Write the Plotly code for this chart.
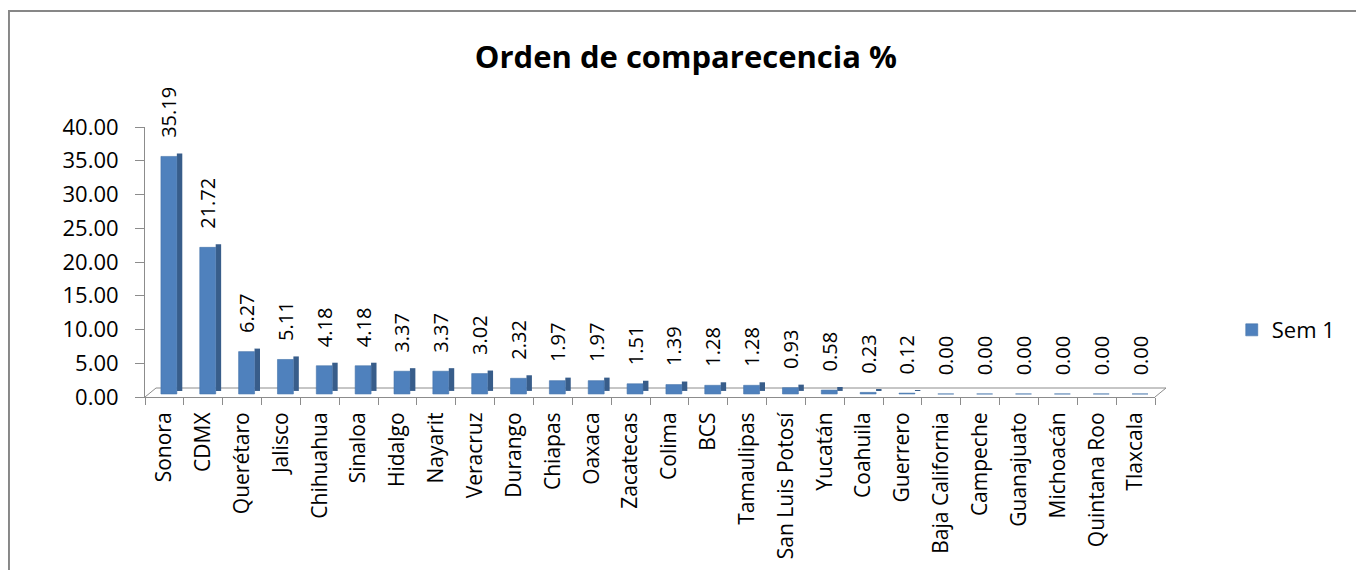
import plotly.graph_objects as go

states = ["Sonora", "CDMX", "Querétaro", "Jalisco", "Chihuahua", "Sinaloa", "Hidalgo",
          "Nayarit", "Veracruz", "Durango", "Chiapas", "Oaxaca", "Zacatecas", "Colima",
          "BCS", "Tamaulipas", "San Luis Potosí", "Yucatán", "Coahuila", "Guerrero",
          "Baja California", "Campeche", "Guanajuato", "Michoacán", "Quintana Roo", "Tlaxcala"]
values = [35.19, 21.72, 6.27, 5.11, 4.18, 4.18, 3.37, 3.37, 3.02, 2.32, 1.97, 1.97, 1.51,
          1.39, 1.28, 1.28, 0.93, 0.58, 0.23, 0.12, 0.00, 0.00, 0.00, 0.00, 0.00, 0.00]
series_name = "Sem 1"
y_ticks = [0, 5, 10, 15, 20, 25, 30, 35, 40]

FONT = "Open Sans"
AXIS = "#8C8C8C"
NB = "\u00a0"

fig = go.Figure()
# side face (3D effect)
fig.add_trace(go.Bar(
    x=states, y=values, base=0.9, width=0.14, offset=0.32,
    marker=dict(color="#385D8A", line=dict(width=0)),
    showlegend=False, hoverinfo="skip"))
# front face
fig.add_trace(go.Bar(
    x=states, y=values, base=0.45, name=series_name, width=0.41, offset=-0.09,
    marker=dict(color="#4F81BD", line=dict(color="#4372AA", width=0.6)),
    text=[NB * 3 + f"{v:.2f}" for v in values], textposition="outside", textangle=-90,
    textfont=dict(family=FONT, size=20, color="black"), cliponaxis=False))

fig.update_layout(
    width=1364, height=570,
    paper_bgcolor="white", plot_bgcolor="white",
    margin=dict(l=137, r=217, t=119, b=181),
    barmode="overlay",
    uniformtext=dict(minsize=20, mode="show"),
    title=dict(text="<b>Orden de comparecencia %</b>", x=0.497, xanchor="center",
               y=0.914, yanchor="middle", font=dict(family=FONT, size=31, color="black")),
    font=dict(family=FONT, color="black"),
    legend=dict(x=1.076, y=0.248, xanchor="left", yanchor="middle",
                font=dict(family=FONT, size=22), bgcolor="rgba(0,0,0,0)"),
    xaxis=dict(showline=True, linecolor=AXIS, linewidth=1, ticks="outside",
               tickson="boundaries", tickcolor=AXIS, ticklen=7, tickangle=-90,
               ticklabelstandoff=6,
               tickfont=dict(family=FONT, size=21), showgrid=False),
    yaxis=dict(range=[0, 40], tickvals=y_ticks, ticktext=[f"{v:.2f}" for v in y_ticks],
               showline=True, linecolor=AXIS, linewidth=1, ticks="outside",
               tickcolor=AXIS, ticklen=9, ticklabelstandoff=12,
               tickfont=dict(family=FONT, size=22),
               showgrid=False, zeroline=False),
    shapes=[
        # 3D floor outline
        dict(type="path", xref="paper", yref="paper",
             path="M 0,0 L 0.0109,0.0333 L 1.0109,0.0333 L 1,0",
             line=dict(color=AXIS, width=1), layer="below"),
        # outer chart border
        dict(type="rect", xref="paper", yref="paper", x0=-0.1347, x1=1.204, y0=-1.0, y1=1.4296,
             line=dict(color="#878787", width=2), fillcolor="rgba(0,0,0,0)", layer="below"),
    ],
)
fig.write_html("out.html")
